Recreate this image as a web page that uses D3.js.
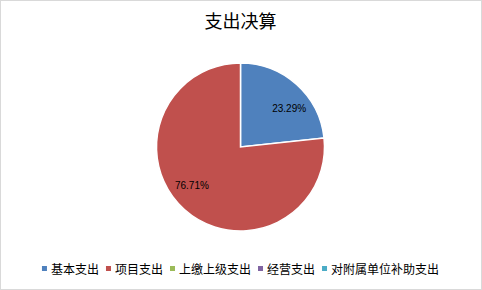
<!DOCTYPE html>
<html>
<head>
<meta charset="utf-8">
<script src="https://cdn.jsdelivr.net/npm/d3@7"></script>
<style>
  body { margin: 0; background: #fff; }
  text { font-family: "Noto Sans CJK SC", "Noto Sans", sans-serif; }
</style>
</head>
<body>
<div id="chart"></div>
<script>
var title = "支出决算";
var categories = ["基本支出", "项目支出", "上缴上级支出", "经营支出", "对附属单位补助支出"];
var values = [23.29, 76.71, 0, 0, 0];
var colors = ["#4F81BD", "#C0504D", "#9BBB59", "#8064A2", "#4BACC6"];

var width = 482, height = 290;
var cx = 240.5, cy = 147, radius = 84;

var svg = d3.select("#chart")
  .append("svg")
    .attr("width", width)
    .attr("height", height);

svg.append("rect")
    .attr("x", 0.5).attr("y", 0.5)
    .attr("width", width - 1).attr("height", height - 1)
    .attr("fill", "#fff")
    .attr("stroke", "#d9d9d9");

svg.append("text")
    .attr("x", cx)
    .attr("y", 28)
    .attr("text-anchor", "middle")
    .style("font-size", "18px")
    .attr("fill", "#000")
    .text(title);

var data = categories.map(function(c, i) { return {name: c, value: values[i], color: colors[i]}; });

var pie = d3.pie().sort(null).value(function(d) { return d.value; });
var arcs = pie(data).filter(function(d) { return d.data.value > 0; });

var arc = d3.arc().innerRadius(0).outerRadius(radius);
var labelArc = d3.arc().innerRadius(62).outerRadius(62);

var g = svg.append("g")
    .attr("transform", "translate(" + cx + "," + cy + ")");

g.selectAll("path")
  .data(arcs)
  .enter()
  .append("path")
    .attr("d", arc)
    .attr("fill", function(d) { return d.data.color; })
    .attr("stroke", "#fff")
    .attr("stroke-width", 1.5);

// excel nudges the labels a bit clockwise from the slice middle
var shift = 0.17;
g.selectAll("text.lbl")
  .data(arcs)
  .enter()
  .append("text")
    .attr("class", "lbl")
    .attr("transform", function(d) {
      var c = labelArc.centroid({startAngle: d.startAngle + shift, endAngle: d.endAngle + shift});
      return "translate(" + c[0] + "," + c[1] + ")";
    })
    .attr("text-anchor", "middle")
    .attr("dy", "0.35em")
    .style("font-family", "'Liberation Sans', Arial, sans-serif")
    .style("font-size", "10px")
    .attr("fill", "#000")
    .text(function(d) { return d.data.value.toFixed(2) + "%"; });

// legend
var legend = svg.append("g").attr("transform", "translate(0,269)");
var items = legend.selectAll("g")
  .data(data)
  .enter()
  .append("g");

items.append("rect")
    .attr("y", -3)
    .attr("width", 5)
    .attr("height", 5)
    .attr("fill", function(d) { return d.color; });

items.append("text")
    .attr("x", 9)
    .attr("dy", "0.38em")
    .style("font-size", "12px")
    .attr("fill", "#000")
    .text(function(d) { return d.name; });

var x = 0, widths = [];
items.each(function() {
  var w = d3.select(this).select("text").node().getComputedTextLength();
  widths.push(9 + w);
});
var total = d3.sum(widths) + 7 * (widths.length - 1);
x = cx - total / 2;
items.attr("transform", function(d, i) {
  var t = "translate(" + x + ",0)";
  x += widths[i] + 7;
  return t;
});
</script>
</body>
</html>
